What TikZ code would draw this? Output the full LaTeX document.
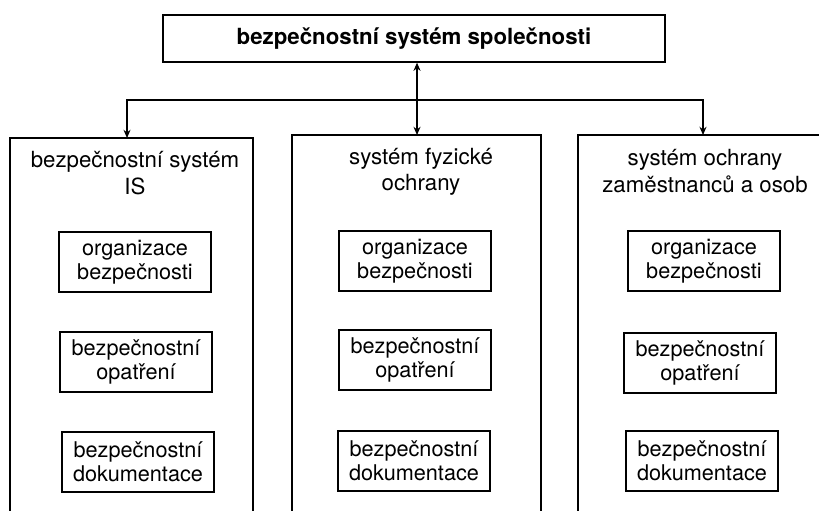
\documentclass[tikz,border=0pt]{standalone}
\usepackage{fontspec}
\setmainfont{TeX Gyre Heros}
\usetikzlibrary{arrows.meta}

\begin{document}
\begin{tikzpicture}[x=0.03cm,y=-0.03cm,line width=1.1pt,
    toptext/.style={draw,minimum width=15.06cm,minimum height=1.41cm,font=\fontsize{19}{22}\selectfont\bfseries},
    coltitle/.style={align=center,font=\fontsize{19}{22.5}\selectfont},
    itembox/.style={draw,line width=0.9pt,align=center,minimum width=4.56cm,minimum height=1.8cm,inner sep=2pt,font=\fontsize{18.5}{20.5}\selectfont},
    tips/.style={{Stealth[length=7pt,width=6pt]}-{Stealth[length=7pt,width=6pt]}}]
      \useasboundingbox (0,0) rectangle (819,511);
      \node[toptext] (top) at (414,38.5) {bezpečnostní systém společnosti};
      \coordinate (c1top) at (127,138);
      \coordinate (c2top) at (417,135);
      \coordinate (c3top) at (703,135);
      \coordinate (bus1) at (127,100);
      \coordinate (bus3) at (703,100);
      \draw (10,514) |- (253,138) -- (253,514);
      \draw (292,514) |- (541,135) -- (541,514);
      \draw (578,514) |- (822,135);
      \draw[tips] (top.south -| c2top) -- (c2top);
      \draw[tips] (c1top) -- (bus1) -- (bus3) -- (c3top);
      \node[coltitle] (t1) at (135,173) {bezpečnostní systém\\IS};
      \node[coltitle] (t2) at (421,172) {systém fyzické\\ochrany};
      \node[coltitle] (t3) at (705,171) {systém ochrany\\zaměstnanců a osob};
      \node[itembox] (org1) at (135,262) {organizace\\bezpečnosti};
      \node[itembox] (opa1) at (136,362) {bezpečnostní\\opatření};
      \node[itembox] (dok1) at (138,462) {bezpečnostní\\dokumentace};
      \node[itembox] (org2) at (415,261) {organizace\\bezpečnosti};
      \node[itembox] (opa2) at (415,360) {bezpečnostní\\opatření};
      \node[itembox] (dok2) at (414,461) {bezpečnostní\\dokumentace};
      \node[itembox] (org3) at (704,261) {organizace\\bezpečnosti};
      \node[itembox] (opa3) at (700,363) {bezpečnostní\\opatření};
      \node[itembox] (dok3) at (702,461) {bezpečnostní\\dokumentace};
\end{tikzpicture}
\end{document}
